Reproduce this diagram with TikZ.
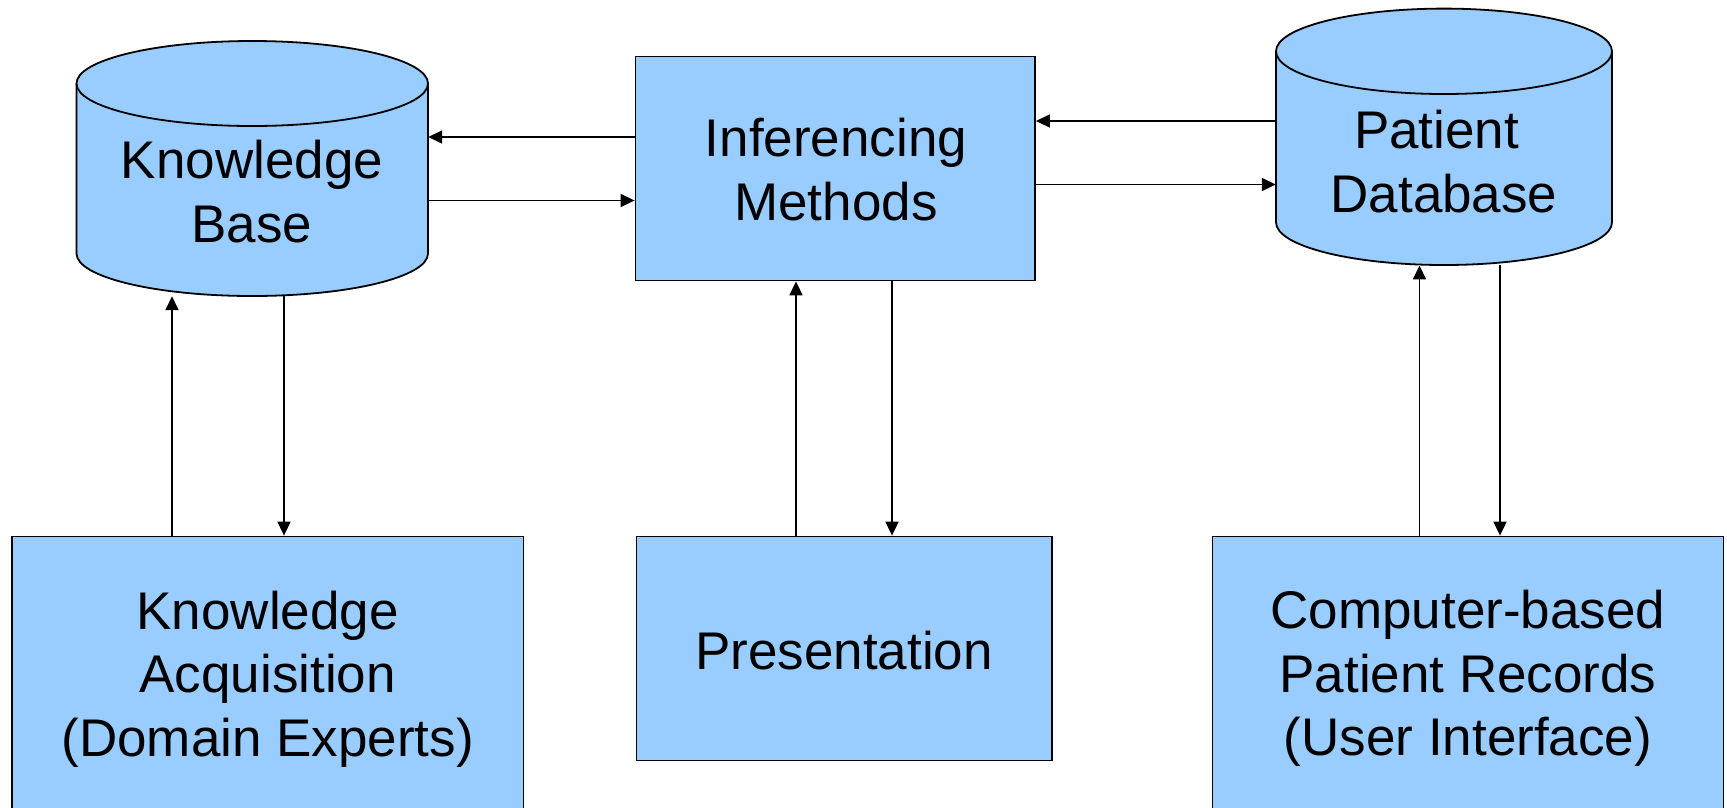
\documentclass[tikz,border=0pt]{standalone}
\usepackage{fontspec}
\setmainfont{Liberation Sans}
\usetikzlibrary{arrows.meta}
\definecolor{boxblue}{HTML}{99CCFF}
\tikzset{
  shapeline/.style={draw=black, line width=1.8pt, fill=boxblue},
  blockbox/.style={shapeline, rectangle, inner sep=0pt},
  area/.style={draw=none, rectangle, inner sep=0pt},
  label/.style={inner sep=0pt, align=center, anchor=north, font=\fontsize{53}{63.5}\selectfont},
  arr/.style={line width=1.7pt, -{Triangle[length=14pt,width=13pt]}},
}
\begin{document}
\begin{tikzpicture}[x=1pt,y=-1pt]
\useasboundingbox (0,0) rectangle (1727,807);
\clip (0,0) rectangle (1727,807);
\fill[white] (0,0) rectangle (1727,807);

% Knowledge Base cylinder
\node[area, minimum width=351.5pt, minimum height=255pt] (kb) at (252.25,168.5) {};
\filldraw[shapeline] (76.5,83.5) -- (76.5,253.5)
  arc[start angle=180,end angle=360,x radius=175.75pt,y radius=42.5pt]
  -- (428,83.5)
  arc[start angle=0,end angle=180,x radius=175.75pt,y radius=42.5pt] -- cycle;
\draw[line width=1.8pt] (76.5,83.5) arc[start angle=180,end angle=360,x radius=175.75pt,y radius=42.5pt];
\node[label] (kbtext) at (252,140) {Knowledge\\Base};

% Patient Database cylinder
\node[area, minimum width=336pt, minimum height=256.5pt] (pd) at (1444,137) {};
\filldraw[shapeline] (1276,51.3) -- (1276,222.3)
  arc[start angle=180,end angle=360,x radius=168pt,y radius=42.7pt]
  -- (1612,51.3)
  arc[start angle=0,end angle=180,x radius=168pt,y radius=42.7pt] -- cycle;
\draw[line width=1.8pt] (1276,51.3) arc[start angle=180,end angle=360,x radius=168pt,y radius=42.7pt];
\node[label] (pdtext) at (1444,110) {\mbox{Patient\ }\\Database};

% Inferencing Methods box
\node[blockbox, minimum width=399.5pt, minimum height=224pt] (im) at (835.25,168.5) {};
\node[label] (imtext) at (836,118) {Inferencing\\Methods};

% Bottom boxes
\node[blockbox, minimum width=511.5pt, minimum height=293.5pt] (ka) at (267.75,683.25) {};
\node[label] (katext) at (267.75,590.7) {Knowledge\\Acquisition\\(Domain Experts)};

\node[blockbox, minimum width=415.5pt, minimum height=224pt] (pres) at (844.25,648.5) {};
\node[label] (prestext) at (844,630.7) {Presentation};

\node[blockbox, minimum width=511pt, minimum height=293.5pt] (cpr) at (1468,683.25) {};
\node[label] (cprtext) at (1468,590) {Computer-based\\Patient Records\\(User Interface)};

% Horizontal connectors
\draw[arr] (im.west |- 0,137) -- (kb.east |- 0,137);
\draw[arr] (kb.east |- 0,200.5) -- (im.west |- 0,200.5);
\draw[arr] (pd.west |- 0,121) -- (im.east |- 0,121);
\draw[arr] (im.east |- 0,184.5) -- (pd.west |- 0,184.5);

% Vertical connectors
\draw[arr] (ka.north -| 172,0) -- (kb.south -| 172,0);
\draw[arr] (kb.south -| 284,0) -- (ka.north -| 284,0);
\draw[arr] (pres.north -| 796,0) -- (im.south -| 796,0);
\draw[arr] (im.south -| 892,0) -- (pres.north -| 892,0);
\draw[arr] (cpr.north -| 1419.5,0) -- (pd.south -| 1419.5,0);
\draw[arr] (pd.south -| 1500,0) -- (cpr.north -| 1500,0);
\end{tikzpicture}
\end{document}
